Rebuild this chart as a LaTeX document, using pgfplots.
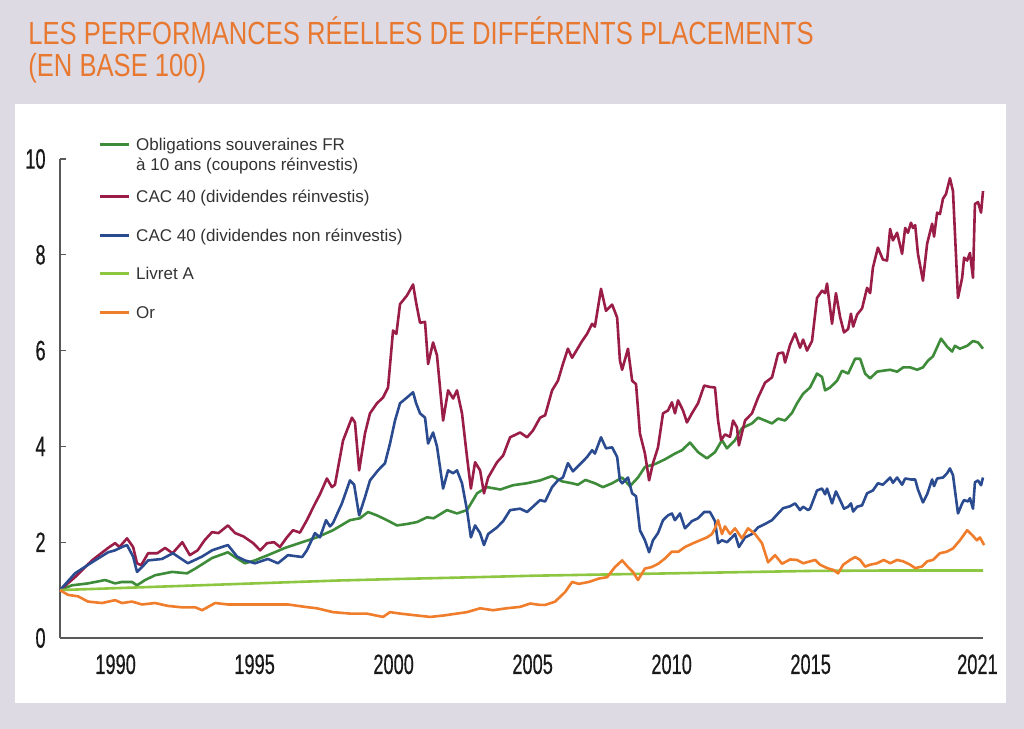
\documentclass[border=0pt]{standalone}
\usepackage{pgfplots}
\pgfplotsset{compat=1.18}
\usepackage{pgfplotstable}
\usepackage{fontspec}
\setmainfont{Liberation Sans}
\newfontfamily\titlefont[FakeStretch=0.8]{Liberation Sans}
\newfontfamily\tickfont[FakeStretch=0.65,FakeBold=0.4]{Liberation Sans}

\definecolor{bg}{HTML}{DDDAE4}
\definecolor{ttl}{HTML}{E8782F}
\definecolor{cOblig}{HTML}{3E8C3A}
\definecolor{cCacR}{HTML}{9A1D48}
\definecolor{cCacN}{HTML}{2B4B90}
\definecolor{cLivret}{HTML}{8DC641}
\definecolor{cOr}{HTML}{F07D2B}
\definecolor{txt}{HTML}{333333}

\pgfplotsset{
  firstlegimg/.style={legend image code/.code={\draw[##1, line width=1.5pt] (0pt,9.4pt) -- (14.5pt,9.4pt);}}
}

\pgfplotstableread{
x y
1988.00 1.00
1988.43 1.10
1989.01 1.14
1989.62 1.21
1989.98 1.14
1990.23 1.17
1990.59 1.17
1990.77 1.10
1991.06 1.21
1991.42 1.31
1992.03 1.38
1992.57 1.35
1992.87 1.45
1993.47 1.67
1994.04 1.79
1994.29 1.69
1994.65 1.56
1995.01 1.62
1995.48 1.73
1996.09 1.88
1996.71 2.00
1997.24 2.10
1997.82 2.25
1998.43 2.46
1998.79 2.50
1999.08 2.63
1999.40 2.56
1999.76 2.46
2000.12 2.35
2000.48 2.38
2000.84 2.42
2001.20 2.52
2001.44 2.50
2001.92 2.67
2002.28 2.60
2002.64 2.67
2003.00 3.02
2003.36 3.15
2003.84 3.10
2004.30 3.19
2004.79 3.23
2005.27 3.29
2005.55 3.35
2005.70 3.38
2006.06 3.27
2006.42 3.23
2006.63 3.20
2006.90 3.30
2007.24 3.23
2007.53 3.15
2007.86 3.23
2008.22 3.35
2008.50 3.17
2008.79 3.35
2009.04 3.57
2009.40 3.63
2009.76 3.73
2010.12 3.85
2010.37 3.92
2010.66 4.08
2010.95 3.88
2011.27 3.75
2011.56 3.88
2011.81 4.13
2011.99 3.96
2012.28 4.13
2012.53 4.38
2012.89 4.48
2013.11 4.60
2013.36 4.54
2013.61 4.48
2013.83 4.58
2014.08 4.54
2014.33 4.70
2014.51 4.90
2014.73 5.10
2014.98 5.23
2015.23 5.52
2015.41 5.45
2015.52 5.17
2015.70 5.23
2015.95 5.37
2016.13 5.58
2016.35 5.52
2016.60 5.83
2016.78 5.83
2016.96 5.52
2017.14 5.42
2017.39 5.56
2017.60 5.58
2017.86 5.60
2018.11 5.56
2018.33 5.65
2018.58 5.65
2018.83 5.60
2019.04 5.65
2019.22 5.79
2019.40 5.88
2019.69 6.25
2019.91 6.08
2020.09 5.98
2020.19 6.10
2020.37 6.04
2020.63 6.10
2020.84 6.20
2021.02 6.17
2021.20 6.04
}\oblig

\pgfplotstableread{
x y
1988.00 1.00
1988.54 1.27
1989.15 1.62
1989.73 1.88
1989.98 1.98
1990.14 1.90
1990.41 2.08
1990.63 1.90
1990.77 1.56
1990.92 1.52
1991.17 1.77
1991.50 1.77
1991.78 1.88
1992.05 1.77
1992.40 2.00
1992.67 1.73
1992.95 1.83
1993.20 2.04
1993.47 2.21
1993.70 2.19
1994.04 2.35
1994.30 2.19
1994.60 2.12
1994.95 1.98
1995.20 1.83
1995.45 1.98
1995.70 2.00
1995.91 1.90
1996.16 2.10
1996.38 2.25
1996.63 2.20
1996.88 2.46
1997.17 2.80
1997.35 3.00
1997.60 3.33
1997.78 3.15
1997.89 3.20
1998.18 4.12
1998.50 4.60
1998.61 4.50
1998.76 3.50
1998.97 4.27
1999.15 4.69
1999.40 4.90
1999.62 5.02
1999.80 5.23
1999.98 6.42
2000.10 6.35
2000.23 6.97
2000.48 7.15
2000.70 7.38
2000.81 7.00
2000.95 6.58
2001.13 6.60
2001.24 5.72
2001.42 6.17
2001.56 5.90
2001.78 4.54
2001.96 5.17
2002.14 5.00
2002.28 5.17
2002.46 4.69
2002.64 3.78
2002.78 3.12
2002.93 3.67
2003.11 3.50
2003.25 3.02
2003.40 3.35
2003.72 3.67
2003.94 3.81
2004.19 4.19
2004.55 4.29
2004.80 4.19
2005.01 4.33
2005.27 4.60
2005.45 4.65
2005.70 5.17
2005.91 5.37
2006.09 5.72
2006.27 6.04
2006.42 5.85
2006.78 6.20
2006.96 6.35
2007.14 6.56
2007.24 6.50
2007.46 7.29
2007.64 6.83
2007.86 6.96
2008.04 6.69
2008.14 5.79
2008.22 5.60
2008.43 6.04
2008.58 5.37
2008.72 5.30
2008.86 4.27
2009.04 3.85
2009.19 3.29
2009.33 3.65
2009.51 3.98
2009.69 4.69
2009.87 4.75
2010.01 4.92
2010.12 4.69
2010.23 4.96
2010.41 4.75
2010.55 4.50
2010.73 4.69
2010.95 4.90
2011.17 5.27
2011.38 5.24
2011.56 5.23
2011.67 4.54
2011.78 4.13
2011.92 4.25
2012.10 4.20
2012.21 4.54
2012.35 4.40
2012.42 4.02
2012.64 4.54
2012.89 4.69
2013.11 5.02
2013.36 5.33
2013.61 5.44
2013.83 5.94
2014.01 5.96
2014.08 5.75
2014.26 6.12
2014.44 6.36
2014.62 6.06
2014.73 6.23
2014.87 6.00
2015.05 6.20
2015.23 7.10
2015.41 7.25
2015.52 7.20
2015.59 7.40
2015.77 6.56
2015.91 7.20
2016.06 6.70
2016.20 6.38
2016.35 6.45
2016.45 6.77
2016.53 6.50
2016.67 6.75
2016.85 6.88
2017.03 7.31
2017.14 7.20
2017.24 7.73
2017.42 8.15
2017.60 7.90
2017.75 7.88
2017.86 8.54
2017.96 8.30
2018.11 8.46
2018.29 8.02
2018.40 8.56
2018.50 8.46
2018.61 8.67
2018.68 8.56
2018.76 8.62
2018.86 8.02
2019.04 7.46
2019.19 8.23
2019.37 8.65
2019.44 8.38
2019.55 8.88
2019.65 8.85
2019.76 9.17
2019.87 9.27
2020.01 9.60
2020.12 9.33
2020.30 7.10
2020.45 7.52
2020.52 7.94
2020.63 7.88
2020.73 8.04
2020.84 7.52
2020.91 9.06
2021.02 9.10
2021.13 8.88
2021.20 9.33
}\cacr

\pgfplotstableread{
x y
1988.00 1.00
1988.54 1.35
1989.15 1.58
1989.73 1.79
1989.98 1.83
1990.23 1.90
1990.41 1.94
1990.63 1.70
1990.77 1.38
1990.95 1.48
1991.17 1.62
1991.67 1.65
1992.06 1.77
1992.60 1.56
1993.11 1.70
1993.47 1.83
1993.83 1.90
1994.04 1.94
1994.37 1.70
1994.65 1.62
1995.01 1.56
1995.48 1.65
1995.84 1.56
1996.20 1.73
1996.71 1.69
1996.88 1.83
1997.17 2.19
1997.35 2.10
1997.57 2.46
1997.71 2.33
1997.82 2.40
1998.14 2.81
1998.43 3.29
1998.58 3.20
1998.76 2.56
1998.97 2.94
1999.15 3.29
1999.44 3.50
1999.69 3.65
1999.87 4.06
2000.05 4.54
2000.23 4.90
2000.48 5.02
2000.70 5.13
2000.81 4.90
2000.95 4.69
2001.13 4.60
2001.24 4.06
2001.42 4.29
2001.56 4.00
2001.78 3.12
2001.96 3.50
2002.14 3.44
2002.28 3.50
2002.46 3.23
2002.64 2.67
2002.78 2.10
2002.93 2.35
2003.11 2.19
2003.25 1.94
2003.40 2.17
2003.72 2.31
2003.94 2.44
2004.19 2.67
2004.55 2.70
2004.80 2.63
2005.01 2.74
2005.27 2.88
2005.45 2.85
2005.70 3.15
2005.91 3.29
2006.09 3.35
2006.27 3.65
2006.45 3.48
2006.78 3.67
2006.96 3.78
2007.14 3.92
2007.24 3.85
2007.46 4.19
2007.64 3.96
2007.86 3.98
2008.04 3.78
2008.14 3.29
2008.22 3.23
2008.43 3.35
2008.58 3.02
2008.72 2.96
2008.86 2.25
2009.04 2.04
2009.19 1.79
2009.33 2.04
2009.51 2.19
2009.69 2.46
2009.87 2.56
2010.01 2.60
2010.12 2.46
2010.30 2.60
2010.48 2.29
2010.73 2.44
2010.95 2.50
2011.17 2.63
2011.38 2.63
2011.56 2.44
2011.67 1.98
2011.81 2.04
2011.99 2.00
2012.17 2.10
2012.28 2.17
2012.42 1.90
2012.64 2.10
2012.89 2.17
2013.11 2.31
2013.36 2.38
2013.61 2.46
2013.83 2.60
2014.01 2.71
2014.26 2.75
2014.44 2.81
2014.62 2.67
2014.73 2.74
2014.91 2.67
2014.98 2.70
2015.23 3.08
2015.41 3.12
2015.52 3.00
2015.59 3.12
2015.77 2.81
2015.91 3.06
2016.06 2.88
2016.20 2.70
2016.35 2.74
2016.45 2.81
2016.53 2.64
2016.67 2.74
2016.85 2.77
2017.03 3.02
2017.24 3.08
2017.42 3.23
2017.60 3.20
2017.86 3.35
2017.96 3.24
2018.11 3.35
2018.29 3.20
2018.40 3.33
2018.61 3.31
2018.76 3.31
2018.86 3.10
2019.04 2.83
2019.19 3.00
2019.37 3.31
2019.44 3.17
2019.55 3.33
2019.76 3.35
2019.91 3.44
2020.01 3.54
2020.12 3.40
2020.30 2.60
2020.45 2.81
2020.52 2.88
2020.66 2.85
2020.73 2.92
2020.84 2.70
2020.91 3.25
2021.02 3.29
2021.13 3.19
2021.20 3.35
}\cacn

\pgfplotstableread{
x y
1988.0 1.00
1990.0 1.04
1992.0 1.08
1995.0 1.14
1998.0 1.20
2000.0 1.23
2003.0 1.27
2005.0 1.30
2008.0 1.33
2010.0 1.35
2012.0 1.37
2015.0 1.40
2018.0 1.41
2021.2 1.41
}\livret

\pgfplotstableread{
x y
1988.00 1.00
1988.29 0.90
1988.65 0.87
1989.01 0.76
1989.51 0.73
1989.98 0.79
1990.23 0.73
1990.59 0.76
1990.95 0.70
1991.42 0.73
1991.88 0.67
1992.39 0.64
1992.87 0.64
1993.11 0.58
1993.58 0.73
1994.04 0.70
1994.52 0.70
1995.01 0.70
1995.60 0.70
1996.20 0.70
1996.81 0.65
1997.24 0.62
1997.82 0.54
1998.43 0.51
1999.03 0.51
1999.62 0.44
1999.87 0.54
2000.23 0.51
2000.84 0.47
2001.32 0.44
2001.80 0.47
2002.28 0.51
2002.64 0.54
2003.11 0.62
2003.58 0.58
2004.06 0.62
2004.55 0.65
2004.91 0.72
2005.27 0.69
2005.45 0.69
2005.81 0.76
2006.17 0.96
2006.42 1.17
2006.66 1.13
2007.02 1.17
2007.38 1.24
2007.68 1.27
2007.96 1.48
2008.22 1.62
2008.43 1.48
2008.61 1.38
2008.79 1.21
2009.04 1.45
2009.28 1.48
2009.52 1.55
2009.76 1.66
2010.00 1.80
2010.24 1.80
2010.48 1.90
2010.78 1.98
2011.02 2.04
2011.27 2.10
2011.45 2.17
2011.56 2.29
2011.67 2.46
2011.81 2.17
2011.92 2.33
2012.10 2.17
2012.28 2.29
2012.53 2.08
2012.75 2.29
2013.00 2.17
2013.25 1.98
2013.47 1.58
2013.72 1.73
2013.97 1.55
2014.26 1.64
2014.51 1.63
2014.73 1.56
2014.98 1.60
2015.16 1.63
2015.34 1.53
2015.59 1.46
2015.82 1.42
2015.99 1.35
2016.17 1.53
2016.42 1.63
2016.60 1.69
2016.78 1.63
2016.96 1.49
2017.14 1.53
2017.39 1.56
2017.63 1.63
2017.86 1.56
2018.11 1.63
2018.33 1.60
2018.58 1.53
2018.76 1.46
2019.00 1.49
2019.19 1.60
2019.40 1.63
2019.65 1.77
2019.89 1.80
2020.12 1.87
2020.37 2.04
2020.63 2.25
2020.81 2.15
2020.98 2.04
2021.09 2.10
2021.24 1.94
}\gold

\begin{document}
\begin{tikzpicture}[x=0.5pt,y=0.5pt]
\path[use as bounding box] (0,0) rectangle (1024,729);
\fill[bg] (0,0) rectangle (1024,729);
\fill[white] (15,26) rectangle (1006,625);
\node[anchor=base west, inner sep=0pt, text=ttl, font=\titlefont\fontsize{16}{16}\selectfont] at (28,684) {LES PERFORMANCES RÉELLES DE DIFFÉRENTS PLACEMENTS};
\node[anchor=base west, inner sep=0pt, text=ttl, font=\titlefont\fontsize{16}{16}\selectfont] at (28,652) {(EN BASE 100)};
\begin{axis}[
  at={(30pt,45.5pt)}, anchor=south west,
  scale only axis, width=461.5pt, height=239.5pt,
  xmin=1988, xmax=2021.2, ymin=0, ymax=10,
  axis x line*=bottom, axis y line*=left,
  axis line style={draw=black!65, line width=0.7pt, -},
  xtick={1990,1995,2000,2005,2010,2015,2021},
  xticklabels={1990,1995,2000,2005,2010,2015,2021},
  ytick={0,2,4,6,8,10}, yticklabels={0,2,4,6,8,10},
  x tick style={draw=none},
  y tick style={draw=black!65, line width=0.6pt},
  major tick length=3pt, tick align=inside,
  /pgf/number format/assume math mode=true,
  ticklabel style={font=\tickfont\fontsize{14}{14}\selectfont, text=black!90, inner sep=0pt},
  xticklabel style={anchor=north, yshift=-8pt},
  yticklabel style={anchor=east, xshift=-7pt},
  clip=false,
  legend style={at={(0.041,1.0346)}, anchor=north west, draw=none, fill=none,
    font=\fontsize{8.5}{10.2}\selectfont, text=txt, row sep=7.75pt, column sep=1pt,
    inner sep=0pt, cells={anchor=base west, align=left, inner sep=0pt}},
  legend image code/.code={\draw[#1, line width=1.5pt] (0pt,3pt) -- (14.5pt,3pt);},
  every axis plot/.append style={line width=1.3pt, line join=round},
]
\addplot[cOblig, firstlegimg] table[x=x,y=y] {\oblig};
\addlegendentry{\raisebox{-3.8pt}[0pt][0pt]{\begin{tabular}[b]{@{}l@{}}Obligations souveraines FR\\à 10 ans (coupons réinvestis)\end{tabular}}}
\addplot[cCacR] table[x=x,y=y] {\cacr};
\addlegendentry{CAC 40 (dividendes réinvestis)}
\addplot[cCacN] table[x=x,y=y] {\cacn};
\addlegendentry{CAC 40 (dividendes non réinvestis)}
\addplot[cLivret] table[x=x,y=y] {\livret};
\addlegendentry{Livret A}
\addplot[cOr] table[x=x,y=y] {\gold};
\addlegendentry{Or}
\end{axis}
\end{tikzpicture}
\end{document}
